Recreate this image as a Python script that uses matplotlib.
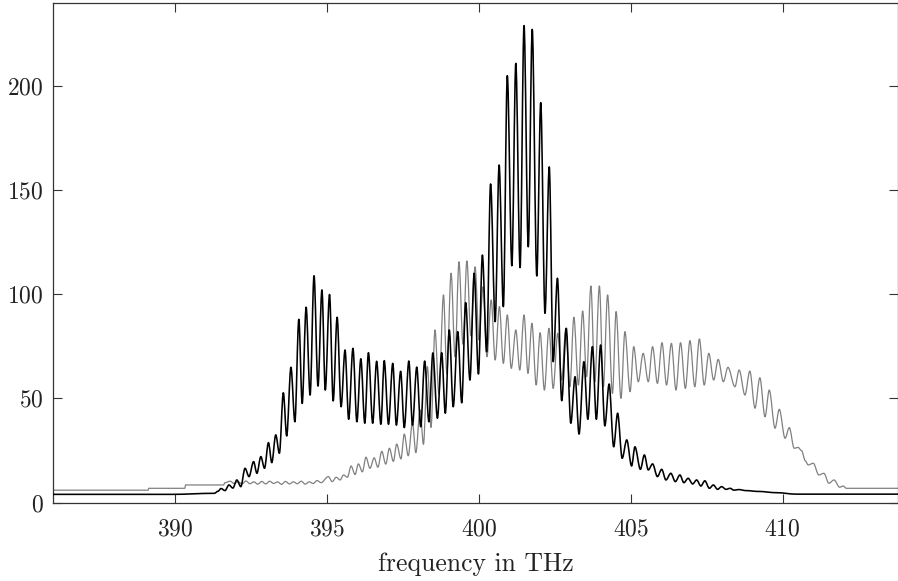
import matplotlib
matplotlib.use("Agg")
import matplotlib.pyplot as plt
from matplotlib.path import Path
from matplotlib.patches import PathPatch

# ---- data ----
black_freq = [386.0, 389.9, 391.30, 391.42, 391.52, 391.65, 391.78, 391.91,
    392.04, 392.17, 392.31, 392.44, 392.59, 392.70, 392.83, 392.95, 393.08, 393.19,
    393.32, 393.44, 393.57, 393.68, 393.82, 393.95, 394.08, 394.19, 394.32, 394.45,
    394.58, 394.71, 394.84, 394.95, 395.09, 395.21, 395.34, 395.47, 395.60, 395.72,
    395.86, 395.99, 396.12, 396.25, 396.37, 396.51, 396.64, 396.78, 396.89, 397.03,
    397.17, 397.29, 397.43, 397.55, 397.70, 397.82, 397.96, 398.09, 398.22, 398.36,
    398.49, 398.64, 398.78, 398.90, 399.03, 399.16, 399.31, 399.44, 399.57, 399.71,
    399.85, 399.99, 400.12, 400.26, 400.39, 400.54, 400.67, 400.81, 400.94, 401.09,
    401.22, 401.36, 401.49, 401.63, 401.76, 401.91, 402.04, 402.18, 402.32, 402.45,
    402.59, 402.73, 402.88, 403.03, 403.17, 403.30, 403.46, 403.59, 403.74, 403.87,
    404.01, 404.15, 404.29, 404.44, 404.57, 404.72, 404.87, 405.03, 405.14, 405.32,
    405.45, 405.58, 405.72, 405.88, 406.02, 406.16, 406.32, 406.47, 406.62, 406.75,
    406.89, 407.04, 407.17, 407.31, 407.44, 407.59, 407.72, 407.86, 407.99, 408.14,
    408.27, 408.40, 408.55, 408.80, 409.20, 409.80, 410.45, 413.8]
black_val = [4.0, 4.0, 4.5, 5.5, 6.8, 5.8, 8.5, 7.0,
    10.9, 7.7, 16.5, 12.5, 19.7, 14.1, 22.1, 16.5, 28.8, 19.2,
    32.5, 23.7, 52.7, 32.0, 64.9, 38.8, 87.9, 47.6, 93.7, 51.6,
    108.8, 55.9, 102.0, 54.0, 99.8, 48.8, 88.9, 46.0, 73.2, 40.0,
    74.0, 38.8, 69.0, 38.1, 71.9, 38.1, 67.8, 37.6, 68.1, 37.6,
    66.8, 37.2, 63.0, 36.0, 67.9, 37.2, 65.0, 36.4, 67.9, 38.8,
    71.8, 40.5, 71.9, 42.9, 82.8, 46.0, 82.0, 47.9, 95.9, 58.8,
    110.0, 61.7, 118.7, 72.4, 152.8, 86.8, 161.9, 94.0, 204.7, 113.6,
    210.6, 112.7, 228.7, 122.7, 226.9, 108.7, 191.8, 90.8, 161.0, 67.6,
    107.6, 48.9, 83.6, 38.1, 60.4, 32.9, 67.6, 40.0, 74.8, 40.0,
    75.6, 36.8, 56.9, 26.8, 42.9, 21.3, 30.1, 17.6, 26.8, 16.0,
    22.9, 15.7, 18.6, 12.5, 16.0, 10.9, 14.1, 10.1, 13.3, 9.6,
    11.7, 9.0, 10.9, 8.0, 10.5, 6.9, 8.5, 6.4, 7.7, 6.4,
    6.9, 6.0, 6.3, 5.8, 5.4, 4.8, 4.1, 4.1]

gray_freq = [386.0, 389.12, 389.14, 390.33, 390.35, 391.60, 391.65,
    391.82, 391.95, 392.08, 392.21, 392.34, 392.47, 392.60, 392.73, 392.86, 392.99,
    393.12, 393.25, 393.38, 393.51, 393.64, 393.77, 393.90, 394.03, 394.16, 394.29,
    394.42, 394.55, 394.68, 394.81,
    395.05, 395.18, 395.31, 395.44, 395.55, 395.68, 395.80, 395.93, 396.04, 396.17,
    396.29, 396.42, 396.56, 396.68, 396.81, 396.94, 397.06, 397.19, 397.30, 397.44,
    397.55, 397.68, 397.82, 397.93, 398.07, 398.18, 398.31, 398.43, 398.56, 398.69,
    398.84, 398.95, 399.09, 399.22, 399.35, 399.48, 399.61, 399.74, 399.88, 400.01,
    400.14, 400.27, 400.41, 400.54, 400.68, 400.81, 400.94, 401.07, 401.22, 401.35,
    401.49, 401.62, 401.75, 401.89, 402.02, 402.16, 402.31, 402.45, 402.60, 402.73,
    402.86, 403.00, 403.13, 403.28, 403.42, 403.55, 403.69, 403.82, 403.97, 404.10,
    404.24, 404.40, 404.52, 404.68, 404.81, 404.98, 405.10, 405.25, 405.41, 405.58,
    405.72, 405.88, 406.03, 406.18, 406.34, 406.49, 406.64, 406.80, 406.95, 407.11,
    407.26, 407.42, 407.57, 407.73, 407.88, 408.05, 408.20, 408.43, 408.57, 408.76,
    408.92, 409.09, 409.25, 409.42, 409.56, 409.75, 409.89, 410.08, 410.22, 410.38,
    410.51, 410.62, 410.75, 410.84, 411.01, 411.19, 411.36, 411.52, 411.69, 411.88,
    411.99, 412.10, 413.8]
gray_val = [6.0, 6.0, 6.9, 6.9, 8.5, 8.5, 9.6,
    10.3, 9.2, 10.0, 9.0, 10.4, 9.1, 10.0, 8.9, 10.2, 9.0,
    10.3, 9.2, 10.0, 8.8, 10.2, 9.0, 10.0, 9.1, 10.3, 8.9,
    10.0, 9.2, 10.6, 9.6,
    12.5, 10.1, 12.2, 10.9, 13.3, 12.2, 17.6, 13.5, 18.6, 14.8,
    21.8, 16.5, 21.5, 17.0, 24.6, 18.5, 26.1, 19.8, 28.1, 21.0,
    32.9, 22.5, 38.4, 24.0, 44.5, 28.0, 65.2, 36.1, 82.8, 52.0,
    99.6, 62.0, 110.0, 70.0, 115.5, 76.0, 115.9, 80.0, 113.1, 78.0,
    103.5, 70.0, 97.2, 68.4, 94.0, 66.8, 90.0, 64.4, 82.8, 63.6,
    90.0, 62.0, 86.0, 56.4, 81.5, 54.0, 83.6, 54.8, 81.2, 58.8,
    82.8, 55.6, 88.9, 56.4, 91.9, 60.4, 103.9, 58.0, 103.9, 55.6,
    99.6, 52.4, 91.6, 50.0, 82.0, 53.2, 74.8, 58.0, 71.6, 58.0,
    74.8, 57.2, 76.7, 56.4, 76.4, 54.0, 76.7, 54.8, 77.7, 55.6,
    78.5, 56.4, 71.6, 58.8, 68.7, 58.0, 64.9, 55.6, 63.6, 51.6,
    63.1, 45.3, 59.9, 41.2, 54.0, 35.7, 44.8, 30.9, 36.0, 26.1,
    26.5, 25.0, 20.0, 18.1, 18.9, 13.3, 14.1, 9.3, 10.9, 7.4,
    8.0, 6.9, 6.9]

x_ticks = [390, 395, 400, 405, 410]
y_ticks = [0, 50, 100, 150, 200]
x_label = "frequency in THz"


def smooth_line(ax, xs, ys, **kw):
    """Draw the measured points as one line whose segments are rounded
    (cubic Bezier with flat tangents at each measured point)."""
    verts = [(xs[0], ys[0])]
    codes = [Path.MOVETO]
    for i in range(len(xs) - 1):
        dx = (xs[i + 1] - xs[i]) / 3.0
        verts += [(xs[i] + dx, ys[i]), (xs[i + 1] - dx, ys[i + 1]),
                  (xs[i + 1], ys[i + 1])]
        codes += [Path.CURVE4] * 3
    patch = PathPatch(Path(verts, codes), fill=False, **kw)
    ax.add_patch(patch)
    return patch


# ---- style ----
plt.rcParams['font.family'] = ['cmr10', 'DejaVu Serif']
plt.rcParams['axes.formatter.use_mathtext'] = True
plt.rcParams['font.size'] = 17

fig = plt.figure(figsize=(8.98, 5.81), dpi=100)
ax = fig.add_axes([53.3 / 898, 78.3 / 581, 844.2 / 898, 500.0 / 581])

smooth_line(ax, gray_freq, gray_val, edgecolor='#808080', lw=0.9, zorder=2,
            joinstyle='round', capstyle='round')
smooth_line(ax, black_freq, black_val, edgecolor='black', lw=1.15, zorder=3,
            joinstyle='round', capstyle='round')

ax.set_xlim(386.0, 413.78)
ax.set_ylim(0, 239.7)
ax.set_xticks(x_ticks)
ax.set_yticks(y_ticks)
ax.tick_params(direction='in', length=6.5, width=0.8, color='#333333',
               top=True, right=True, labelsize=17, labelcolor='#222222')
ax.tick_params(axis='x', pad=11)
ax.tick_params(axis='y', pad=7)
for s in ax.spines.values():
    s.set_color('#333333')
    s.set_linewidth(0.9)
ax.set_xlabel(x_label, fontsize=18.5, color='#222222', labelpad=8.5)

fig.savefig("out.png", dpi=100)
